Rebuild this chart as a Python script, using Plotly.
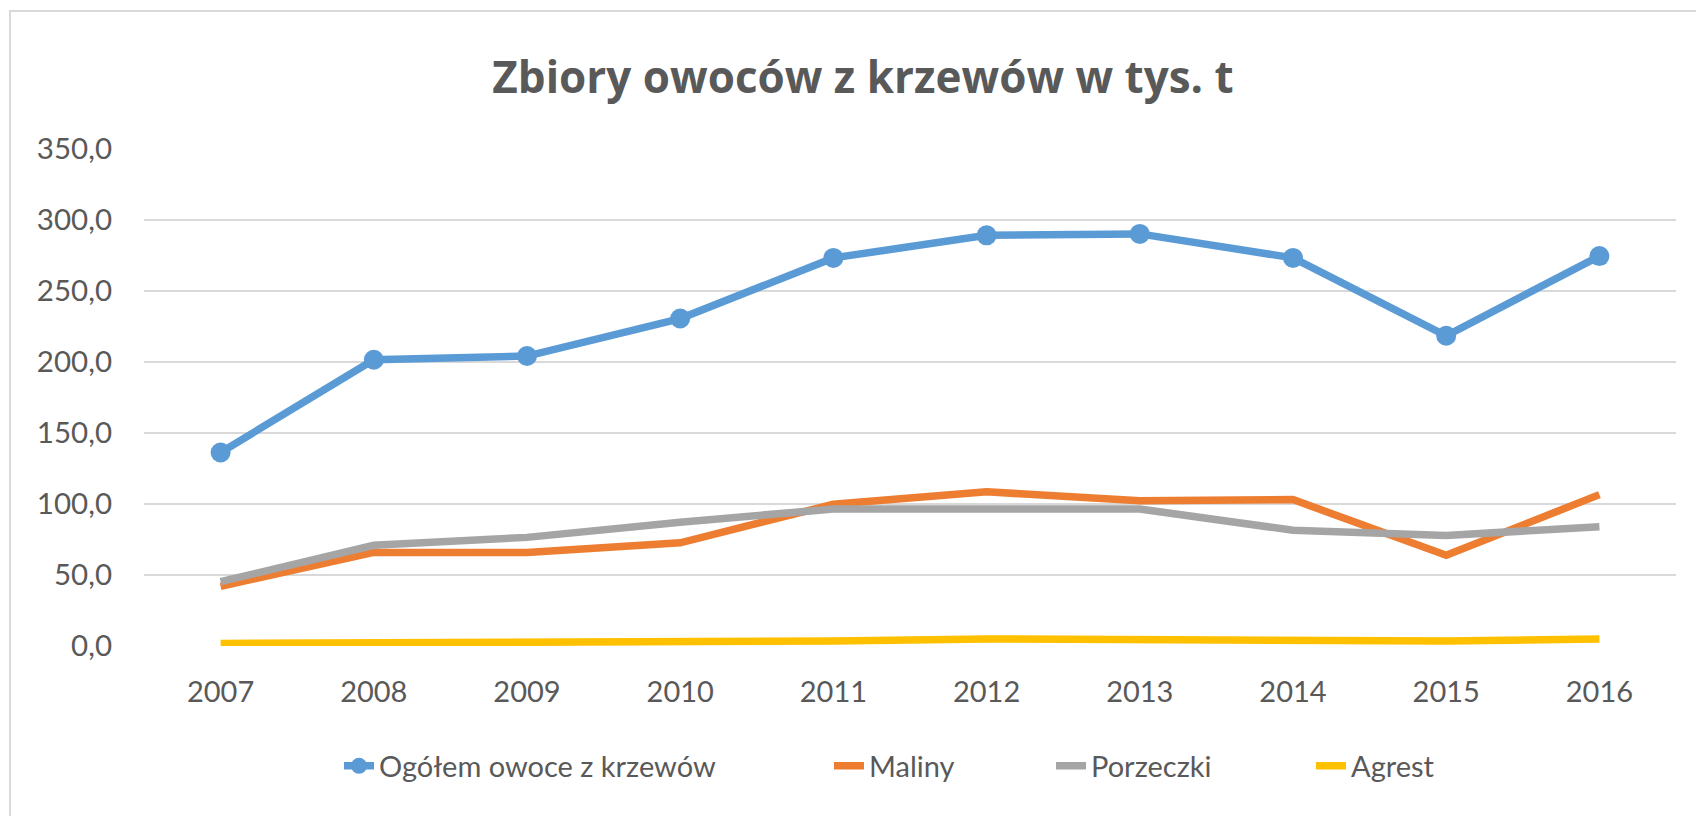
import plotly.graph_objects as go

years = ["2007", "2008", "2009", "2010", "2011", "2012", "2013", "2014", "2015", "2016"]
ogolem = [136.3, 201.6, 204.2, 230.6, 273.3, 289.2, 290.2, 273.3, 218.5, 274.6]
maliny = [42.0, 65.9, 65.9, 72.7, 99.8, 108.6, 102.3, 103.1, 63.9, 106.6]
porzeczki = [45.3, 70.9, 76.5, 87.2, 96.5, 96.5, 96.5, 81.5, 77.9, 84.0]
agrest = [1.8, 1.9, 2.0, 2.2, 3.5, 5.0, 4.2, 3.5, 3.5, 5.0]

names = ["Ogółem owoce z krzewów", "Maliny", "Porzeczki", "Agrest"]
colors = ["#5B9BD5", "#ED7D31", "#A5A5A5", "#FFC000"]

FONT = "Lato"
TXT = "#595959"
OFF = 8  # page body margin
W, H = 1704 - OFF, 816 - OFF
L, R, T, B = 136, 28, 141, 170

pw = W - L - R
ph = H - T - B
def px_x(p):
    return (p - OFF - L) / pw
def px_y(p):
    return (H - B - (p - OFF)) / ph

fig = go.Figure()
series = [ogolem, maliny, porzeczki, agrest]
for i, (nm, col, vals) in enumerate(zip(names, colors, series)):
    kw = dict(mode="lines")
    if i == 0:
        kw = dict(mode="lines+markers", marker=dict(size=20, color=col))
    fig.add_trace(go.Scatter(x=years, y=vals, name=nm,
                             line=dict(color=col, width=7.5),
                             legend="legend" if i == 0 else f"legend{i+1}", **kw))

fig.add_shape(type="rect", xref="paper", yref="paper",
              x0=px_x(10), x1=px_x(1730), y0=px_y(11), y1=px_y(840),
              line=dict(color="#D9D9D9", width=2), fillcolor="rgba(0,0,0,0)", layer="below")

legend_text_starts = [389, 879, 1101, 1361]
leg_common = dict(orientation="h", yanchor="middle", xanchor="left",
                  font=dict(family=FONT, size=29, color=TXT),
                  bgcolor="rgba(0,0,0,0)", borderwidth=0)
legends = {}
for i, xs in enumerate(legend_text_starts):
    key = "legend" if i == 0 else f"legend{i+1}"
    legends[key] = dict(x=px_x(xs - 50), y=px_y(766), **leg_common)

fig.update_layout(
    width=W, height=H,
    margin=dict(l=L, r=R, t=T, b=B),
    paper_bgcolor="white", plot_bgcolor="white",
    separators=", ",
    font=dict(family=FONT, color=TXT, size=29),
    title=dict(text="<b>Zbiory owoców z krzewów w tys. t</b>",
               x=(863 - OFF) / W, xanchor="center", xref="container",
               y=1 - (78 - OFF) / H, yanchor="middle",
               font=dict(family="Open Sans", size=44, color=TXT)),
    showlegend=True,
    xaxis=dict(type="category", range=[-0.5, 9.5], showgrid=False, zeroline=False,
               showline=False, ticks="", ticklabelstandoff=26,
               tickfont=dict(family=FONT, size=29, color=TXT)),
    yaxis=dict(range=[0, 350], dtick=50, tickformat=".1f", showgrid=True,
               gridcolor="#D9D9D9", gridwidth=2, zeroline=False, showline=False,
               ticks="", ticklabelstandoff=31,
               tickfont=dict(family=FONT, size=29.5, color=TXT)),
    **legends,
)

fig.write_html("out.html")
